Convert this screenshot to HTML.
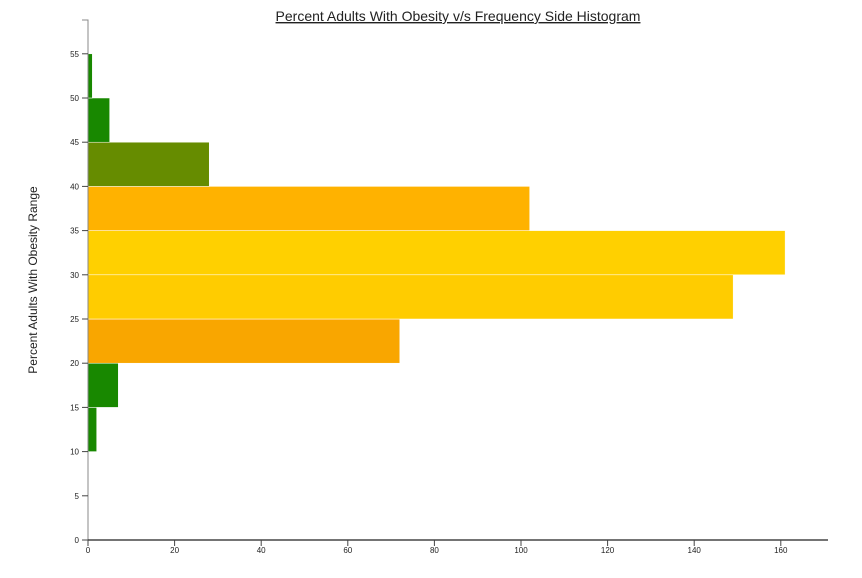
<!DOCTYPE html>
<html><head><meta charset="utf-8"><style>
body{margin:0;background:#fff;width:862px;height:573px;overflow:hidden;font-family:"Liberation Sans",sans-serif}
</style></head><body>
<svg id="c" width="862" height="573">
<text x="458" y="21" text-anchor="middle" font-size="14" fill="#222" text-decoration="underline">Percent Adults With Obesity v/s Frequency Side Histogram</text>
<text transform="translate(37,280) rotate(-90)" text-anchor="middle" font-size="12" fill="#222">Percent Adults With Obesity Range</text>
<text x="434" y="582" text-anchor="middle" font-size="12" fill="#222">Frequency</text>
<g id="bars"></g><g id="axes"></g>
</svg>
<script>
const binStarts=[10,15,20,25,30,35,40,45,50];
const counts=[2,7,72,149,161,102,28,5,1];
const colors=['#188800','#188800','#f9a600','#ffcc00','#ffd000','#ffb200','#668c00','#188800','#188800'];
const xTicks=[0,20,40,60,80,100,120,140,160];
const yTicks=[0,5,10,15,20,25,30,35,40,45,50,55];
const NS='http://www.w3.org/2000/svg';
const x0=88,y0=540;
const xs=v=>x0+v*(86.6/20);
const ys=v=>y0-v*(44.2/5);
const bars=document.getElementById('bars'),axes=document.getElementById('axes');
function mk(t,a,p){const e=document.createElementNS(NS,t);for(const k in a)e.setAttribute(k,a[k]);p.appendChild(e);return e;}
binStarts.forEach((b,i)=>{
 const r=mk('rect',{x:x0,y:ys(b+5),width:xs(counts[i])-x0,height:ys(b)-ys(b+5),fill:colors[i],stroke:'#fff','stroke-width':0.5},bars);
 
 
});
const ya=mk('path',{d:`M82,20H88V540`,stroke:'#888',fill:'none'},axes);


const xa=mk('path',{d:`M88,540H828`,stroke:'#222',fill:'none','stroke-width':1.2},axes);


yTicks.forEach(t=>{
 mk('line',{x1:82,x2:88,y1:ys(t),y2:ys(t),stroke:'#444'},axes);
 const l=mk('text',{x:79,y:ys(t)+3,'text-anchor':'end','font-size':8,fill:'#222'},axes);l.textContent=t;
 
 
});
xTicks.forEach(t=>{
 mk('line',{x1:xs(t),x2:xs(t),y1:540,y2:546,stroke:'#444'},axes);
 const l=mk('text',{x:xs(t),y:553,'text-anchor':'middle','font-size':8,fill:'#222'},axes);l.textContent=t;
 
 
});
</script>
</body></html>
